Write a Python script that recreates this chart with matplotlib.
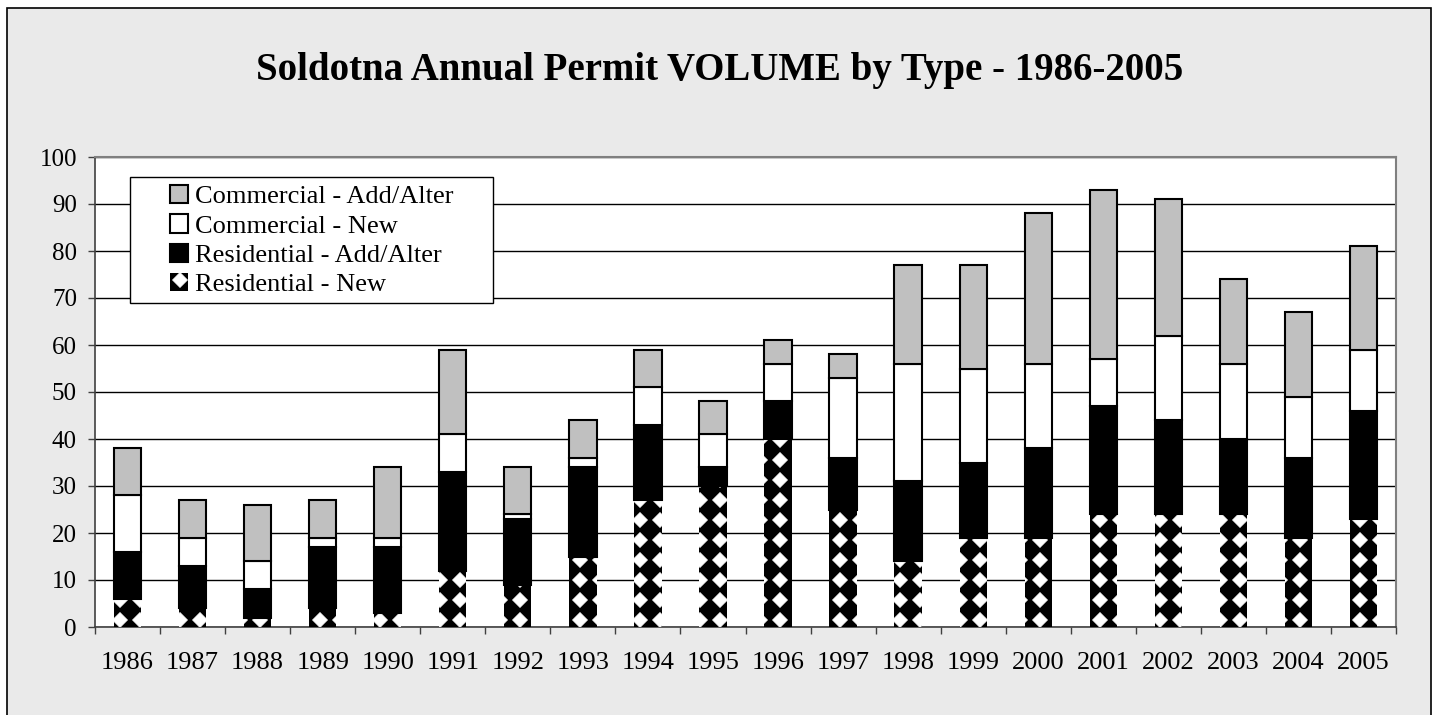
import matplotlib
matplotlib.use("Agg")
import matplotlib.pyplot as plt
import matplotlib.hatch as mhatch
from matplotlib.path import Path
from matplotlib.patches import Patch, Rectangle
import numpy as np

years = ["1986", "1987", "1988", "1989", "1990", "1991", "1992", "1993", "1994", "1995",
         "1996", "1997", "1998", "1999", "2000", "2001", "2002", "2003", "2004", "2005"]
res_new = [6, 4, 2, 4, 3, 12, 9, 15, 27, 30, 40, 25, 14, 19, 19, 24, 24, 24, 19, 23]
res_add = [10, 9, 6, 13, 14, 21, 14, 19, 16, 4, 8, 11, 17, 16, 19, 23, 20, 16, 17, 23]
com_new = [12, 6, 6, 2, 2, 8, 1, 2, 8, 7, 8, 17, 25, 20, 18, 10, 18, 16, 13, 13]
com_add = [10, 8, 12, 8, 15, 18, 10, 8, 8, 7, 5, 5, 21, 22, 32, 36, 29, 18, 18, 22]
labels = ["Residential - New", "Residential - Add/Alter", "Commercial - New", "Commercial - Add/Alter"]
title = "Soldotna Annual Permit VOLUME by Type - 1986-2005"


# Custom fill pattern: filled diamonds on a square grid (used via the '*' hatch).
class DiamondHatch(mhatch.HatchPatternBase):
    def __init__(self, hatch, density):
        n = hatch.count('*')
        self.num_rows = 5 * n
        self.num_vertices = ((self.num_rows + 1) ** 2) * 5 if n else 0

    def set_vertices_and_codes(self, vertices, codes):
        off = 1.0 / self.num_rows
        r = off * 0.37
        shape = np.array([[0, r], [r, 0], [0, -r], [-r, 0], [0, r]])
        shape_codes = np.array([Path.MOVETO, Path.LINETO, Path.LINETO, Path.LINETO,
                                Path.CLOSEPOLY], dtype=Path.code_type)
        vparts, cparts = [], []
        pos = np.linspace(0, 1, self.num_rows + 1)
        for ry in pos:
            for cx in pos:
                vparts.append(shape + [cx, ry])
                cparts.append(shape_codes)
        np.concatenate(vparts, out=vertices)
        np.concatenate(cparts, out=codes)


mhatch._hatch_types = [t for t in mhatch._hatch_types if t is not mhatch.Stars] + [DiamondHatch]

plt.rcParams['font.family'] = ['Liberation Serif', 'DejaVu Serif']
plt.rcParams['hatch.color'] = 'white'
plt.rcParams['hatch.linewidth'] = 0.6

W, H = 1439, 715
fig = plt.figure(figsize=(W / 100, H / 100), dpi=100)
fig.patch.set_facecolor('white')
bg = Rectangle((7 / W, -0.02), (1431 - 7) / W, 1 - 8 / H + 0.02, transform=fig.transFigure,
               facecolor='#eaeaea', edgecolor='black', linewidth=1.2, zorder=-10)
fig.patches.append(bg)

ax = fig.add_axes([95 / W, 1 - 627 / H, (1396 - 95) / W, (627 - 157) / H])
ax.set_facecolor('white')

x = np.arange(len(years))
bw = 0.42
rn = np.array(res_new)
ra = np.array(res_add)
cn = np.array(com_new)
ca = np.array(com_add)

ax.bar(x, rn, bw, color='black', edgecolor='white', linewidth=0, hatch='*', zorder=3)
ax.bar(x, ra, bw, bottom=rn, color='black', edgecolor='black', linewidth=1.5, zorder=3)
ax.bar(x, cn, bw, bottom=rn + ra, color='white', edgecolor='black', linewidth=1.5, zorder=3)
ax.bar(x, ca, bw, bottom=rn + ra + cn, color='#c0c0c0', edgecolor='black', linewidth=1.5, zorder=3)

ax.set_xlim(-0.5, len(years) - 0.5)
ax.set_ylim(0, 100)
ax.set_yticks(np.arange(0, 101, 10))
ax.yaxis.grid(True, color='black', linewidth=1.0, zorder=1)
ax.set_axisbelow(True)
ax.tick_params(axis='y', labelsize=18, direction='out', length=5, width=1, color='#404040', pad=8)

ax.set_xticks(x)
ax.set_xticklabels(years)
ax.set_xticks(np.arange(-0.5, len(years), 1), minor=True)
ax.tick_params(axis='x', which='major', length=0, labelsize=19, pad=18)
ax.tick_params(axis='x', which='minor', length=5, width=1, color='#404040', direction='out')

for s in ['top', 'right']:
    ax.spines[s].set_color('#808080')
    ax.spines[s].set_linewidth(1.5)
for s in ['left', 'bottom']:
    ax.spines[s].set_color('#404040')
    ax.spines[s].set_linewidth(1.2)

fig.text(0.5, 1 - 80 / H, title, ha='center', va='baseline', fontsize=28, fontweight='bold')


# legend frame (Excel-style, wide padding)
def ax_x(px):
    return (px - 95) / 1301


def ax_y(py):
    return (627 - py) / 470


frame = Rectangle((ax_x(130), ax_y(303)), ax_x(493) - ax_x(130), ax_y(177) - ax_y(303),
                  transform=ax.transAxes, facecolor='white', edgecolor='black',
                  linewidth=1.0, zorder=5)
ax.add_patch(frame)

handles = [
    Patch(facecolor='#c0c0c0', edgecolor='black', linewidth=1.5),
    Patch(facecolor='white', edgecolor='black', linewidth=1.5),
    Patch(facecolor='black', edgecolor='black', linewidth=1.5),
    Patch(facecolor='black', edgecolor='white', linewidth=0, hatch='*'),
]
leg = ax.legend(handles, labels[::-1], loc='upper left',
                bbox_to_anchor=(ax_x(170), ax_y(185)),
                fontsize=19, frameon=False,
                handlelength=0.68, handleheight=0.68, handletextpad=0.25,
                labelspacing=0.23, borderpad=0, borderaxespad=0)
leg.set_zorder(6)

fig.savefig('out.png', dpi=100, facecolor=fig.get_facecolor())
